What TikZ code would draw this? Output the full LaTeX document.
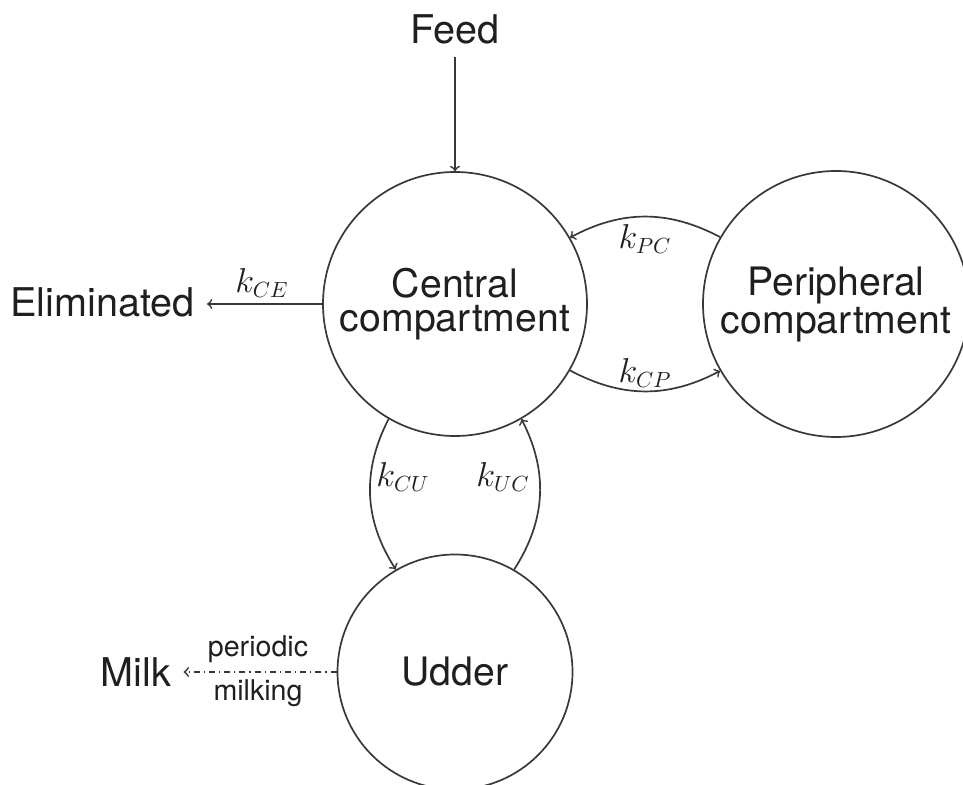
\documentclass[tikz,border=0pt]{standalone}
\usepackage{fontspec}
\setsansfont{TeX Gyre Heros}
\begin{document}
\begin{tikzpicture}[x=0.5pt,y=0.5pt,
  comp/.style={circle,draw=black!78,line width=0.85pt,inner sep=0pt,align=center,text=black!88,font=\sffamily\fontsize{19.6}{17}\selectfont},
  lbl/.style={font=\sffamily\fontsize{19.8}{22}\selectfont,inner sep=6pt,text=black!88},
  small/.style={font=\sffamily\fontsize{14.3}{16}\selectfont,inner sep=0pt,text=black!88},
  rate/.style={inner sep=0pt,font=\fontsize{16}{18}\selectfont,text=black!88},
  flow/.style={->,line width=0.85pt,draw=black!78},
]
\useasboundingbox (0,0) rectangle (963,-785);
% compartments
\node[comp,minimum size=132pt] (C) at (455,-304) {Central\\compartment};
\node[comp,minimum size=133pt,font=\sffamily\fontsize{19.6}{19}\selectfont] (P) at (836,-304) {Peripheral\\compartment};
\node[comp,minimum size=117.5pt] (U) at (455,-672) {Udder};
% outer labels
\node[lbl,anchor=base] (feed) at (455,-44) {Feed};
\node[lbl,anchor=base] (elim) at (102.5,-317) {Eliminated};
\node[lbl,anchor=base] (milk) at (136,-686) {Milk};
% rate labels
\node[rate] (kce) at (262,-283) {$k_{CE}$};
\node[rate] (kpc) at (645,-239) {$k_{PC}$};
\node[rate] (kcp) at (645,-373) {$k_{CP}$};
\node[rate] (kcu) at (403,-477) {$k_{CU}$};
\node[rate] (kuc) at (503,-477) {$k_{UC}$};
\node[small] (per) at (258,-649) {periodic};
\node[small] (mlk) at (258,-693) {milking};
% connectors
\draw[flow] (feed.south) -- (C.north);
\draw[flow] (C.west) -- (C.west -| elim.east);
\draw[flow] (P.150) to[bend right=28] (C.30);
\draw[flow] (C.-30) to[bend right=28] (P.210);
\draw[flow] (C.-120) to[bend right=30] (U.120);
\draw[flow] (U.60) to[bend right=30] (C.-60);
\draw[flow,dash pattern=on 3pt off 2pt on 0.6pt off 2pt] (U.west) -- (U.west -| milk.east);
\end{tikzpicture}
\end{document}
